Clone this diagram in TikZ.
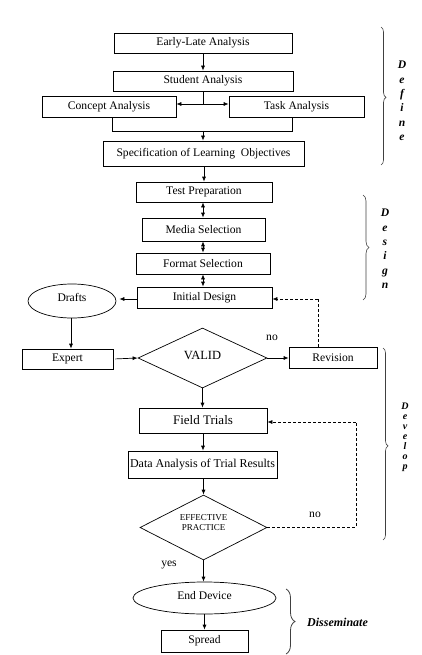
\documentclass[tikz,border=0pt]{standalone}
\usepackage{fontspec}
\setmainfont{Liberation Serif}
\usetikzlibrary{arrows.meta,shapes.geometric,decorations.pathreplacing,calc}
\begin{document}
\begin{tikzpicture}[x=1pt,y=-1pt,
  every node/.style={font=\fontsize{11.6}{13}\selectfont, inner sep=0pt},
  box/.style={draw, line width=0.7pt, rectangle},
  oval/.style={draw, line width=0.7pt, ellipse},
  dia/.style={draw, line width=0.7pt, diamond},
  arr/.style={line width=0.7pt, -{Latex[length=5pt,width=4pt]}},
  darr/.style={line width=0.7pt, {Latex[length=5pt,width=4pt]}-{Latex[length=5pt,width=4pt]}},
  dashline/.style={line width=0.7pt, dash pattern=on 3pt off 2pt},
  ln/.style={line width=0.7pt},
  brc/.style={line width=0.6pt, draw=black!75, decorate},
  stack/.style={font=\fontsize{11.6}{14.4}\selectfont\bfseries\itshape, align=center}
]
\useasboundingbox (0,0) rectangle (422,655);

% Define phase
\node[box, minimum width=178pt, minimum height=20pt] (early) at (203,43) {Early-Late Analysis};
\node[box, minimum width=180pt, minimum height=20pt] (student) at (203,81) {Student Analysis};
\node[box, minimum width=134pt, minimum height=21pt] (concept) at (109,106.5) {Concept Analysis};
\node[box, minimum width=135pt, minimum height=21pt] (task) at (296.5,106.5) {Task Analysis};
\node[box, minimum width=201pt, minimum height=25pt] (spec) at (203.5,153.5) {Specification of Learning\ \ Objectives};

% Design phase
\node[box, minimum width=136pt, minimum height=20pt] (test) at (204,192) {Test Preparation};
\node[box, minimum width=123pt, minimum height=23pt] (media) at (203.5,229.5) {Media Selection};
\node[box, minimum width=134pt, minimum height=21pt] (format) at (203,263.5) {Format Selection};
\node[box, minimum width=135pt, minimum height=21pt] (initial) at (204.5,297.5) {Initial Design};
\node[oval, minimum width=88pt, minimum height=34pt] (drafts) at (72,301) {\raisebox{7pt}{Drafts}};

% Develop phase
\node[box, minimum width=91pt, minimum height=20pt] (expert) at (67.5,359) {Expert};
\node[dia, minimum width=129pt, minimum height=60pt] (valid) at (202.5,358) {\fontsize{12.5}{14}\selectfont\raisebox{6pt}{VALID}};
\node[box, minimum width=88pt, minimum height=21pt] (revision) at (333,357.5) {Revision};
\node[box, minimum width=128pt, minimum height=25pt] (field) at (203,420.5) {\fontsize{13}{15}\selectfont Field Trials};
\node[box, minimum width=149pt, minimum height=27pt] (data) at (202.5,464.5) {\fontsize{12}{14}\selectfont Data Analysis of Trial Results};
\node[dia, minimum width=127pt, minimum height=65pt] (effective) at (203.5,527.5) {};
\node[font=\fontsize{9}{10}\selectfont, align=center] (efftext) at (203.5,523) {EFFECTIVE\\PRACTICE};

% Disseminate phase
\node[oval, minimum width=143pt, minimum height=32pt] (enddev) at (204.5,598) {\raisebox{5pt}{End Device}};
\node[box, minimum width=87pt, minimum height=22pt] (spread) at (204.5,641) {Spread};

% labels
\node (no1) at (272,338) {no};
\node (no2) at (315,515) {no};
\node (yes) at (169,565) {yes};

% connectors: define
\draw[arr] (early.south) -- (early.south |- student.north);
\coordinate (j1) at (203,104);
\draw[ln] (student.south -| j1) -- (j1);
\draw[arr] (j1) -- (concept.east |- j1);
\draw[arr] (j1) -- (task.west |- j1);
\coordinate (c1) at (112,131);
\coordinate (c2) at (292,131);
\coordinate (c3) at (203,131);
\draw[ln] (concept.south -| c1) -- (c1) -- (c2) -- (task.south -| c2);
\draw[arr] (c3) -- (spec.north -| c3);

% design
\draw[arr] (spec.south -| test.north) -- (test.north);
\coordinate (v1) at (203,0);
\draw[darr] (test.south -| v1) -- (media.north -| v1);
\draw[darr] (media.south -| v1) -- (format.north -| v1);
\draw[darr] (format.south -| v1) -- (initial.north -| v1);
\coordinate (dd) at (0,299);
\draw[arr] (initial.west |- dd) -- ($(drafts.east |- dd)+(3,0)$);
\coordinate (r1) at (318,299);
\draw[dashline] (revision.north -| r1) -- (r1);
\draw[dashline, -{Latex[length=5pt,width=4pt]}] (r1) -- (initial.east |- r1);

% develop
\coordinate (x71) at (71,0);
\draw[arr] (drafts.south -| x71) -- (expert.north -| x71);
\draw[arr, shorten <=2pt] (expert.east) -- (valid.west);
\draw[arr] (valid.east) -- (revision.west |- valid.east);
\draw[arr] (valid.south) -- (field.north -| valid.south);
\draw[arr] (field.south) -- (data.north -| field.south);
\draw[arr] (data.south -| effective.north) -- (effective.north);
\coordinate (e1) at (356,527.5);
\coordinate (e2) at (356,422);
\draw[dashline] (effective.east) -- (e1) -- (e2);
\draw[dashline, -{Latex[length=5pt,width=4pt]}] (e2) -- (field.east |- e2);

% disseminate
\draw[arr] (effective.south) -- (enddev.north -| effective.south);
\draw[arr] (enddev.south) -- (spread.north -| enddev.south);

% braces
\draw[brc, decoration={brace, amplitude=5pt, aspect=0.51}] (381,27) -- (381,165);
\draw[brc, decoration={brace, amplitude=6pt, aspect=0.5}] (363,195) -- (363,300);
\draw[brc, decoration={brace, amplitude=5pt, aspect=0.51}] (383,348) -- (383,540);
\draw[brc, line width=0.8pt, decoration={brace, amplitude=9pt, aspect=0.5}] (286,589) -- (286,654);

\node[stack] (deftxt) at (402,101) {D\\e\\f\\i\\n\\e};
\node[stack] (destxt) at (385,249) {D\\e\\s\\i\\g\\n};
\node[stack, font=\fontsize{10}{10}\selectfont\bfseries\itshape] (devtxt) at (405,437) {D\\e\\v\\e\\l\\o\\p};
\node[font=\fontsize{12}{14}\selectfont\bfseries\itshape, anchor=west] (dissem) at (307,622) {Disseminate};
\end{tikzpicture}
\end{document}
